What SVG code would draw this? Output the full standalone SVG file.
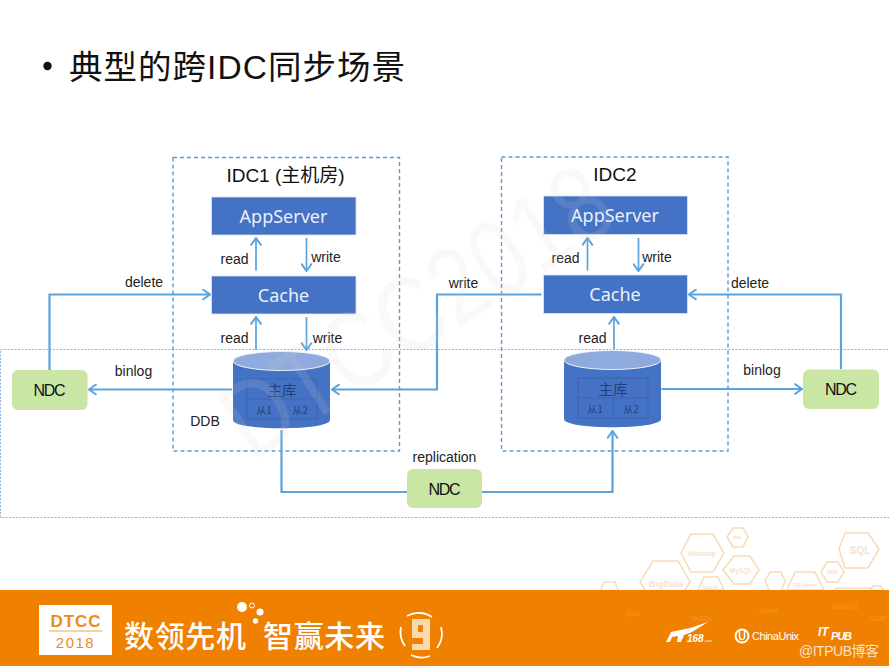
<svg xmlns="http://www.w3.org/2000/svg" width="889" height="666" viewBox="0 0 889 666">
  <style>
    text { font-family: "Liberation Sans", "Noto Sans CJK SC", sans-serif; }
    .lbl { font-size: 14px; fill: #222; text-anchor: middle; }
    .title { font-size: 19px; fill: #111; text-anchor: middle; }
    .blue { fill: #4472c4; stroke: #dfe7f5; stroke-width: .8; }
    .bluetxt { font-family: "Noto Sans", sans-serif; font-size: 18px; fill: #eaf0fa; text-anchor: middle; }
    .ndc { fill: #c9e6a5; }
    .ndctxt { font-size: 16px; fill: #111; text-anchor: middle; }
    .idc { fill: none; stroke: #5b9bd5; stroke-width: 1.4; stroke-dasharray: 4 3; }
    .wire { fill: none; stroke: #5ba3dc; stroke-width: 2.2; }
    .thin { fill: none; stroke: #5ba3dc; stroke-width: 1.7; }
    .tbl { fill: none; stroke: #3c64ac; stroke-width: 1; }
    .db { font-family: "Noto Sans CJK SC", sans-serif; fill: #24407a; text-anchor: middle; }
    .hex { fill: #fff; stroke: #f6dcb6; stroke-width: 1.5; }
    .hextxt { fill: #f5e2d2; text-anchor: middle; font-weight: bold; }
    .band { fill: #fff; font-family: "Noto Sans CJK SC", sans-serif; font-weight: 500; font-size: 30px; }
    .ghost { fill: #f39a2b; font-size: 6.5px; text-anchor: middle; }
  </style>
  <defs>
    <marker id="head" viewBox="0 0 10 12" markerWidth="10" markerHeight="12" refX="9" refY="6" orient="auto" markerUnits="userSpaceOnUse">
      <path d="M1.500 .7 L9 6 L1.500 11.300" fill="none" stroke="#5ba3dc" stroke-width="2"/>
    </marker>
    <g id="cylinder">
      <path d="M0 10 V69 C0 80 97 80 97 69 V10 Z" fill="#4472c4"/>
      <ellipse cx="48.500" cy="10" rx="48.500" ry="9.500" fill="#8faadc" stroke="#eef2fa" stroke-width="1"/>
      <rect class="tbl" x="14" y="28" width="70" height="40"/>
      <path class="tbl" d="M14 48 H84 M49 48 V68"/>
      <text class="db" x="49" y="44.500" font-size="14.500">主库</text>
      <text class="db" x="31" y="63" font-size="10">从1</text>
      <text class="db" x="67" y="63" font-size="10">从2</text>
    </g>
  </defs>

  <rect width="889" height="666" fill="#fff"/>

  <!-- slide heading -->
  <circle cx="47.500" cy="66" r="4.200" fill="#111"/>
  <text id="heading" x="69" y="79" font-size="33.500" fill="#111" font-family="Noto Sans CJK SC, sans-serif" textLength="336">典型的跨IDC同步场景</text>

  <!-- scope frames -->
  <rect x="0.500" y="349.500" width="889" height="168" fill="none" stroke="#8fb4d6" stroke-width="1" stroke-dasharray="2 1.500"/>
  <rect class="idc" x="173" y="157.500" width="226.500" height="293.500"/>
  <rect class="idc" x="501.500" y="157" width="226.500" height="294"/>
  <text class="title" x="285.500" y="182">IDC1 (主机房)</text>
  <text class="title" x="615" y="181">IDC2</text>

  <g id="connectors">
    <path class="thin" marker-end="url(#head)" d="M256 270.500 V238"/>
    <path class="thin" marker-end="url(#head)" d="M306.500 238 V271"/>
    <path class="thin" marker-end="url(#head)" d="M256 350 V317"/>
    <path class="thin" marker-end="url(#head)" d="M306.500 317 V350"/>
    <path class="thin" marker-end="url(#head)" d="M587.500 270.500 V238"/>
    <path class="thin" marker-end="url(#head)" d="M638.500 238 V271"/>
    <path class="thin" marker-end="url(#head)" d="M614 349 V317"/>
    <path class="wire" marker-end="url(#head)" d="M49.500 370 V294.500 H210"/>
    <path class="wire" marker-end="url(#head)" d="M232 389.500 H89"/>
    <path class="wire" marker-end="url(#head)" d="M541.500 294.500 H437 V389.500 H332"/>
    <path class="wire" marker-end="url(#head)" d="M841 369 V294.500 H689"/>
    <path class="wire" marker-end="url(#head)" d="M661.500 389 H802"/>
    <path class="wire" d="M281.500 430 V492 H407"/>
    <path class="wire" marker-end="url(#head)" d="M482 492 H612.500 V431"/>
  </g>

  <g id="appserver1"><rect class="blue" x="211.500" y="197" width="144.500" height="38"/><text class="bluetxt" x="283.500" y="223">AppServer</text></g>
  <g id="cache1"><rect class="blue" x="211.500" y="276" width="144.500" height="38"/><text class="bluetxt" x="283.500" y="302">Cache</text></g>
  <g id="appserver2"><rect class="blue" x="543.500" y="196" width="144" height="38.500"/><text class="bluetxt" x="615" y="222">AppServer</text></g>
  <g id="cache2"><rect class="blue" x="543.500" y="275" width="144" height="38.500"/><text class="bluetxt" x="615" y="301">Cache</text></g>

  <g id="db1"><use href="#cylinder" x="233" y="351"/></g>
  <g id="db2"><use href="#cylinder" x="564" y="350"/></g>

  <g id="ndc-left"><rect class="ndc" x="12" y="370" width="75.500" height="40" rx="6"/><text class="ndctxt" x="49.500" y="396" textLength="32">NDC</text></g>
  <g id="ndc-right"><rect class="ndc" x="803" y="369.500" width="76" height="39.500" rx="6"/><text class="ndctxt" x="841" y="395" textLength="32">NDC</text></g>
  <g id="ndc-mid"><rect class="ndc" x="407" y="469" width="75" height="39" rx="6"/><text class="ndctxt" x="444.500" y="495" textLength="32">NDC</text></g>

  <!-- connector labels -->
  <text class="lbl" x="234.500" y="264">read</text>
  <text class="lbl" x="326" y="262">write</text>
  <text class="lbl" x="234.500" y="343">read</text>
  <text class="lbl" x="327.500" y="343">write</text>
  <text class="lbl" x="144" y="287">delete</text>
  <text class="lbl" x="133.500" y="376">binlog</text>
  <text class="lbl" x="205" y="426" font-size="14.500">DDB</text>
  <text class="lbl" x="444.500" y="462">replication</text>
  <text class="lbl" x="463.500" y="288">write</text>
  <text class="lbl" x="565.500" y="263">read</text>
  <text class="lbl" x="657" y="262">write</text>
  <text class="lbl" x="592.500" y="343">read</text>
  <text class="lbl" x="750" y="288">delete</text>
  <text class="lbl" x="762" y="375">binlog</text>

  <!-- pale stamp laid over the whole slide body -->
  <text x="252" y="462" transform="rotate(-33 252 462)" font-size="108" fill="#d8d8d8" opacity=".14" textLength="440" lengthAdjust="spacingAndGlyphs">DTCC2018</text>

  <!-- honeycomb of technology names -->
  <g id="honeycomb">
    <polygon class="hex" points="691,534 713,534 724,553 713,572 691,572 681,553"/>
    <text class="hextxt" x="702" y="556" font-size="7.500">Hadoop</text>
    <polygon class="hex" points="733,528 743,528 748,537 743,547 733,547 727,537"/>
    <text class="hextxt" x="737" y="539" font-size="3.500">MNA</text>
    <polygon class="hex" points="653,561 678,561 690,582 684,592 646,592 640,582"/>
    <text class="hextxt" x="666" y="587" font-size="9">BigData</text>
    <polygon class="hex" points="734,556 750,556 759,570 750,584 734,584 723,570"/>
    <text class="hextxt" x="741" y="573" font-size="6.500">MySQL</text>
    <polygon class="hex" points="704,577 718,577 724,590 698,590"/>
    <text class="hextxt" x="710" y="589" font-size="6">Spark</text>
    <polygon class="hex" points="770,572 781,572 785,581 781,592 770,592 765,581"/>
    <polygon class="hex" points="795,572 815,572 824,590 787,590"/>
    <text class="hextxt" x="805" y="587" font-size="4.500">SQL Server</text>
    <polygon class="hex" points="827,562 838,562 844,572 838,582 827,582 821,572"/>
    <text class="hextxt" x="832" y="574" font-size="5.500">DB2</text>
    <polygon class="hex" points="845,533 868,533 879,549 868,568 845,568 839,549"/>
    <text class="hextxt" x="860" y="554" font-size="10">SQL</text>
    <polygon class="hex" points="604,582 615,582 619,592 600,592"/>
    <polygon class="hex" points="836,588 874,588 874,592 836,592"/>
    <polygon class="hex" points="873,586 881,586 884,592 870,592"/>
  </g>

  <!-- footer band -->
  <rect id="band" x="0" y="590" width="889" height="76" fill="#f08000"/>
  <g id="band-ghosts">
    <text class="ghost" x="633" y="616">lySto</text>
    <text class="ghost" x="702" y="621">NoSQL</text>
    <text class="ghost" x="769" y="613">Oracle</text>
    <text class="ghost" x="846" y="609">NewSQL</text>
    <text class="ghost" x="878" y="621">OLAP</text>
  </g>
  <g id="footer-badge">
    <rect x="39" y="605" width="73" height="50" fill="#fff"/>
    <text x="75.500" y="627" font-size="17" font-weight="bold" fill="#ee8a1e" text-anchor="middle" textLength="50">DTCC</text>
    <path d="M49 631 H102" stroke="#ee8a1e" stroke-width=".8"/>
    <text x="75.500" y="648" font-size="15" fill="#ee8a1e" text-anchor="middle" letter-spacing="1.500">2018</text>
  </g>
  <text class="band" x="124" y="647" textLength="122">数领先机</text>
  <text class="band" x="263" y="647" textLength="122">智赢未来</text>
  <g fill="#fff">
    <circle cx="242" cy="607" r="5"/>
    <circle cx="252" cy="605.500" r="2.500" fill="none" stroke="#fff" stroke-width="1"/>
    <circle cx="260" cy="612" r="3.500"/>
    <circle cx="255.500" cy="621" r="2.700"/>
  </g>
  <path d="M401 627 A24 24 0 0 0 405 646 M411 655 A24 24 0 0 0 430 656 M437 648 A24 24 0 0 0 441 627 M432 617 A24 24 0 0 0 407 616" fill="none" stroke="#fff" stroke-width="1.800"/>
  <!-- dotted numeral in the ring -->
  <path d="M412 619 H430 V650 H412 V644 H423 V638 H412 Z M418 625 V632 H423 V625 Z" fill="#fbd9ae" fill-rule="evenodd"/>
  <path d="M666 642 L671 632 L690 628 L708 622 L692 632 L684 635 L681 642 L677 642 L678 636 L672 637 L670 642 Z" fill="#fff"/>
  <text x="687" y="642" font-size="10" font-weight="bold" font-style="italic" fill="#fff">168</text>
  <text x="704" y="642" font-size="3.500" fill="#fff">.com</text>
  <circle cx="742" cy="636" r="6.500" fill="none" stroke="#fff" stroke-width="2"/>
  <path d="M739.500 631 V637 A2.500 2.500 0 0 0 744.500 637 V631" fill="none" stroke="#fff" stroke-width="1.500"/>
  <text x="752" y="640" font-size="11" fill="#fff" textLength="47">ChinaUnix</text>
  <text x="818" y="636" font-size="12" font-weight="bold" font-style="italic" fill="#fff">IT</text>
  <text x="831" y="640" font-size="11" font-weight="bold" font-style="italic" fill="#fff" textLength="21">PUB</text>
  <text x="799" y="656" font-size="14" fill="#f8e2c8" textLength="80">@ITPUB博客</text>
</svg>
